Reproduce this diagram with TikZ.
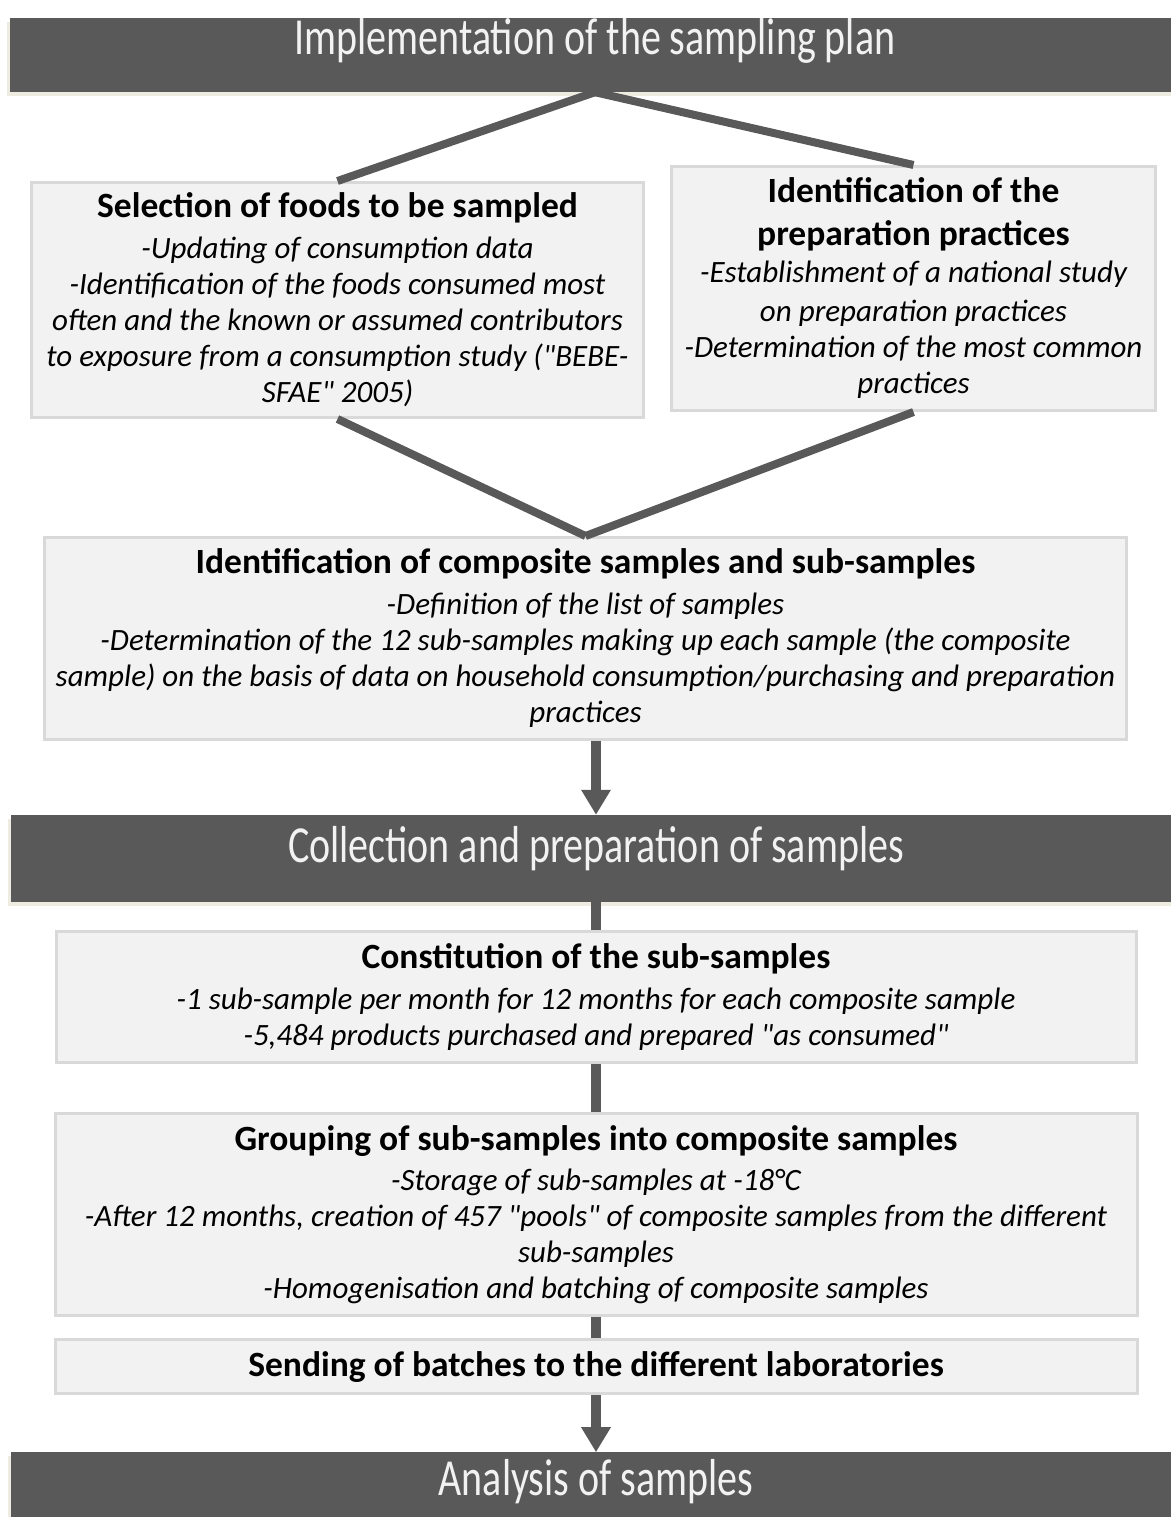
\documentclass[tikz,border=0pt]{standalone}
\usepackage{graphicx}
\usepackage{fontspec}
\setmainfont{Carlito}
\usetikzlibrary{arrows.meta, positioning}

\definecolor{hdrgray}{HTML}{595959}
\definecolor{boxfill}{HTML}{F2F2F2}
\definecolor{boxline}{HTML}{D9D9D9}
\definecolor{shadecream}{HTML}{EEECE1}
\newcommand{\stagetitle}[1]{{\fontsize{35.5}{41}\selectfont\bfseries\upshape #1}}
\newcommand{\hdrtext}[1]{\scalebox{1}[1.3]{#1}}

\begin{document}
\begin{tikzpicture}[x = 1pt, y = -1pt, > = {Triangle[width=28pt, length=25pt]},
    header/.style = {fill=hdrgray, text=boxfill, font=\fontsize{40}{48}\selectfont, minimum width=1170pt, inner sep=0pt,
        preaction={fill=shadecream, transform canvas={shift={(-3pt,-4pt)}}}},
    box/.style = {draw=boxline, line width=3pt, fill=boxfill, align=center, inner sep=0pt, font=\fontsize{31}{36}\selectfont\itshape},
    link/.style = {draw=hdrgray, line width=8pt},
    flow/.style = {draw=hdrgray, line width=10pt}]
    \useasboundingbox[fill=white] (0,0) rectangle (1170,1517);

    \node[header, text height=37pt, text depth=37pt]		(plan)		at (595,55)		{\hdrtext{Implementation of the sampling plan}};
    \node[box, minimum width=612pt, minimum height=235pt]	(foods)		at (337.5,300)	{\stagetitle{Selection of foods to be sampled}\\[5pt]
        -Updating of consumption data\\
        -Identification of the foods consumed most\\
        often and the known or assumed contributors\\
        to exposure from a consumption study (\textquotedbl BEBE-\\
        SFAE\textquotedbl{} 2005)};
    \node[box, minimum width=484pt, minimum height=244pt]	(practices)	at (913.5,288.5)	{\stagetitle{Identification of the}\\[7pt]
        \stagetitle{preparation practices}\\[1pt]
        -Establishment of a national study\\[3pt]
        on preparation practices\\
        -Determination of the most common\\
        practices};
    \node[box, minimum width=1082pt, minimum height=202pt]	(composite)	at (585.5,638.5)	{\stagetitle{Identification of composite samples and sub-samples}\\[5pt]
        -Definition of the list of samples\\
        -Determination of the 12 sub-samples making up each sample (the composite\\
        sample) on the basis of data on household consumption/purchasing and preparation\\
        practices};
    \node[header, text height=47pt, text depth=40pt]		(collect)	at (596,858.5)	{\hdrtext{Collection and preparation of samples}};
    \node[box, minimum width=1080pt, minimum height=131pt]	(subsamples)	[below=28pt of collect]	{\stagetitle{Constitution of the sub-samples}\\[5pt]
        -1 sub-sample per month for 12 months for each composite sample\\
        -5,484 products purchased and prepared \textquotedbl as consumed\textquotedbl};
    \node[box, minimum width=1082pt, minimum height=202pt]	(grouping)	[below=48pt of subsamples]	{\stagetitle{Grouping of sub-samples into composite samples}\\[4pt]
        -Storage of sub-samples at -18°C\\
        -After 12 months, creation of 457 \textquotedbl pools\textquotedbl{} of composite samples from the different\\
        sub-samples\\
        -Homogenisation and batching of composite samples};
    \node[box, minimum width=1082pt, minimum height=54pt]	(sending)	[below=21pt of grouping]	{\stagetitle{Sending of batches to the different laboratories}};
    \node[header, text height=43pt, text depth=37pt]		(analysis)	[below=57pt of sending]	{\hdrtext{Analysis of samples}};

    \draw[link]	(plan.south)		--	(foods.north);
    \draw[link]	(plan.south)		--	(practices.north);
    \draw[link]	(foods.south)		--	(composite.north);
    \draw[link]	(practices.south)	--	(composite.north);
    \draw[flow, ->]	(composite.south -| collect.north)	--	(collect.north);
    \draw[flow]	(collect)		--	(subsamples);
    \draw[flow]	(subsamples)		--	(grouping);
    \draw[flow]	(grouping)		--	(sending);
    \draw[flow, ->]	(sending)		--	(analysis);
\end{tikzpicture}
\end{document}
